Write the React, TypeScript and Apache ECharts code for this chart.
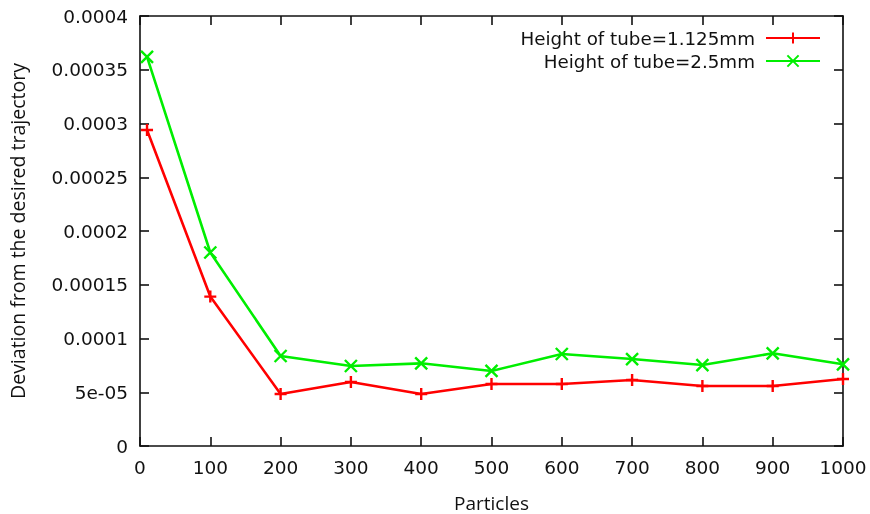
import React, { useEffect, useRef } from "react";
import * as echarts from "echarts";

const particles = [10, 100, 200, 300, 400, 500, 600, 700, 800, 900, 1000];
const tube1125 = [0.000294, 0.000139, 0.0000484, 0.0000595, 0.0000484, 0.0000577, 0.0000577, 0.0000614, 0.0000558, 0.0000558, 0.0000623];
const tube25 = [0.000362, 0.00018, 0.0000837, 0.0000744, 0.0000769, 0.0000698, 0.0000856, 0.0000809, 0.0000753, 0.0000862, 0.000076];
const yTickLabels = ["0", "5e-05", "0.0001", "0.00015", "0.0002", "0.00025", "0.0003", "0.00035", "0.0004"];
const seriesNames = ["Height of tube=1.125mm", "Height of tube=2.5mm"];

const PLUS = "path://M0,5L10,5M5,0L5,10";
const CROSS = "path://M0,0L10,10M10,0L0,10";
const TEXT = "#111111";
const TICKFONT = "DejaVu Sans";
const NAMEFONT = "Open Sans";

export default function App() {
  const ref = useRef<HTMLDivElement>(null);
  useEffect(() => {
    if (!ref.current) return;
    const chart = echarts.init(ref.current, undefined, { renderer: "svg" });
    const axisLine = { show: true, onZero: false, lineStyle: { color: TEXT, width: 1.6 } };
    const axisTick = { show: true, inside: true, length: 9, lineStyle: { color: TEXT, width: 1.6 } };
    const mk = (name: string, data: number[], color: string, symbol: string) => ({
      name,
      type: "line",
      data: particles.map((x, i) => [x, data[i]]),
      symbol,
      symbolSize: 12,
      lineStyle: { color, width: 2.6 },
      itemStyle: { color, borderColor: color, borderWidth: 2.4 },
      emphasis: { disabled: true },
    });
    chart.setOption({
      animation: false,
      grid: { left: 140, right: 27, top: 16, bottom: 68, containLabel: false, outerBoundsMode: "none" },
      legend: {
        orient: "vertical",
        right: 44,
        top: 23,
        align: "right",
        itemWidth: 54,
        itemHeight: 14,
        itemGap: 3,
        data: seriesNames,
        textStyle: { fontFamily: TICKFONT, fontSize: 18.3, color: TEXT, lineHeight: 20, padding: [0, 6, 0, 0] },
      },
      xAxis: [
        {
          type: "value",
          min: 0,
          max: 1000,
          interval: 100,
          position: "bottom",
          name: "Particles",
          nameLocation: "middle",
          nameGap: 47,
          nameTextStyle: { fontFamily: NAMEFONT, fontSize: 19, color: TEXT },
          axisLine,
          axisTick,
          splitLine: { show: false },
          axisLabel: { fontFamily: TICKFONT, fontSize: 18.5, color: TEXT, margin: 12, formatter: (v: number) => String(v) },
        },
        {
          type: "value",
          min: 0,
          max: 1000,
          interval: 100,
          position: "top",
          axisLine,
          axisTick,
          splitLine: { show: false },
          axisLabel: { show: false },
        },
      ],
      yAxis: [
        {
          type: "value",
          min: 0,
          max: 0.0004,
          interval: 0.00005,
          position: "left",
          name: "Deviation from the desired trajectory",
          nameLocation: "middle",
          nameRotate: 90,
          nameGap: 113,
          nameTextStyle: { fontFamily: NAMEFONT, fontSize: 19.5, color: TEXT },
          axisLine,
          axisTick,
          splitLine: { show: false },
          axisLabel: {
            fontFamily: TICKFONT,
            fontSize: 18.5,
            color: TEXT,
            margin: 12,
            formatter: (v: number) => yTickLabels[Math.round(v / 0.00005)] ?? "",
          },
        },
        {
          type: "value",
          min: 0,
          max: 0.0004,
          interval: 0.00005,
          position: "right",
          axisLine,
          axisTick,
          splitLine: { show: false },
          axisLabel: { show: false },
        },
      ],
      series: [mk(seriesNames[0], tube1125, "#ff0000", PLUS), mk(seriesNames[1], tube25, "#00ee00", CROSS)],
    });
    return () => chart.dispose();
  }, []);
  return <div ref={ref} style={{ position: "fixed", left: 0, top: 0, width: 870, height: 514 }} />;
}
